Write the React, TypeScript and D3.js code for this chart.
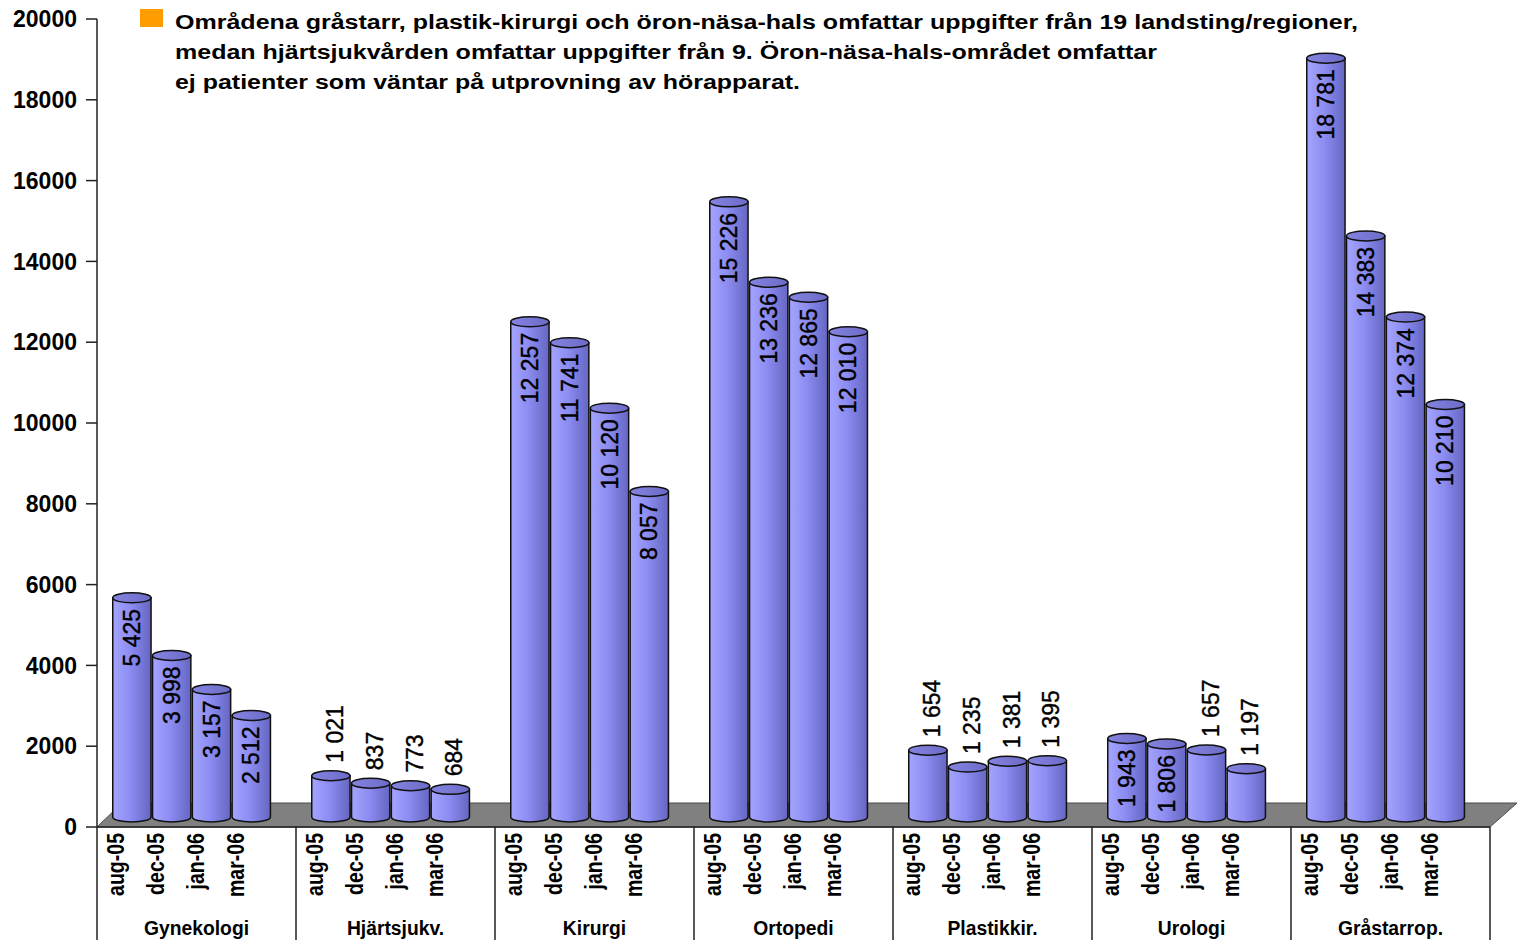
import React from 'react';
import * as d3 from 'd3';

const categories = ['Gynekologi', 'Hjärtsjukv.', 'Kirurgi', 'Ortopedi', 'Plastikkir.', 'Urologi', 'Gråstarrop.'];
const periods = ['aug-05', 'dec-05', 'jan-06', 'mar-06'];
const gynekologi = [5425, 3998, 3157, 2512];
const hjartsjukv = [1021, 837, 773, 684];
const kirurgi = [12257, 11741, 10120, 8057];
const ortopedi = [15226, 13236, 12865, 12010];
const plastikkir = [1654, 1235, 1381, 1395];
const urologi = [1943, 1806, 1657, 1197];
const grastarrop = [18781, 14383, 12374, 10210];
const seriesByCategory = [gynekologi, hjartsjukv, kirurgi, ortopedi, plastikkir, urologi, grastarrop];
const yTicks = [0, 2000, 4000, 6000, 8000, 10000, 12000, 14000, 16000, 18000, 20000];
const titleLines = [
  'Områdena gråstarr, plastik-kirurgi och öron-näsa-hals omfattar uppgifter från 19 landsting/regioner,',
  'medan hjärtsjukvården omfattar uppgifter från 9. Öron-näsa-hals-området omfattar',
  'ej patienter som väntar på utprovning av hörapparat.',
];
const titleWidths = [1183, 982, 625];

const W = 1517;
const H = 940;
const left = 97;
const right = 1490;
const y0 = 827;
const yTop = 19;
const depthX = 25;
const depthY = 24;
const barDX = 15;
const barDY = 10;
const slotsPerGroup = 5;

const locale = d3.formatLocale({ decimal: ',', thousands: '\u00a0', grouping: [3], currency: ['', ''] });
const fmt = locale.format(',d');

export default function App() {
  const y = d3.scaleLinear().domain([0, 20000]).range([y0, yTop]);
  const slotIdx = d3.range(categories.length * slotsPerGroup);
  const xs = d3.scaleBand<number>().domain(slotIdx).range([left, right]).padding(0);
  const groupX = d3.scaleBand<string>().domain(categories).range([left, right]).padding(0);
  const bw = xs.bandwidth();
  const rx = (bw - 1.5) / 2;
  const ry = 5;

  const bars: any[] = [];
  seriesByCategory.forEach((vals, g) => {
    vals.forEach((v, i) => {
      const k = g * slotsPerGroup + i;
      const fx = xs(k)!;
      bars.push({ g, i, v, k, fx, cx: fx + bw / 2 + barDX, top: y(v) - barDY, base: y(0) - barDY });
    });
  });

  const floor = [
    [left, y0],
    [left + depthX, y0 - depthY],
    [right + depthX + 2, y0 - depthY],
    [right, y0],
  ];

  return (
    <svg width={W} height={H} style={{ position: 'absolute', left: 0, top: 0, background: '#fff' }}
      fontFamily="Arial, 'Liberation Sans', sans-serif">
      <defs>
        <linearGradient id="cyl" x1="0" x2="1" y1="0" y2="0">
          <stop offset="0" stopColor="#a4a4ff" />
          <stop offset="0.45" stopColor="#8d8df2" />
          <stop offset="1" stopColor="#6565c2" />
        </linearGradient>
        <linearGradient id="cylTop" x1="0" x2="1" y1="0" y2="0">
          <stop offset="0" stopColor="#8484e0" />
          <stop offset="1" stopColor="#6c6cc8" />
        </linearGradient>
      </defs>

      {/* title */}
      <rect x={140} y={9} width={23} height={18} fill="#ff9c00" />
      {titleLines.map((t, i) => (
        <text key={i} x={175} y={29 + i * 30} fontSize={20} fontWeight="bold" fill="#000"
          textLength={titleWidths[i]} lengthAdjust="spacingAndGlyphs">{t}</text>
      ))}

      {/* floor */}
      <polygon points={floor.map((p) => p.join(',')).join(' ')} fill="#808080" stroke="#4a4a4a" strokeWidth={1} />

      {/* y axis */}
      <line x1={left} x2={left} y1={yTop} y2={H} stroke="#222" strokeWidth={1.5} />
      {yTicks.map((t) => (
        <g key={t}>
          <line x1={left - 11} x2={left} y1={y(t)} y2={y(t)} stroke="#222" strokeWidth={1.5} />
          <text x={77} y={y(t)} dy="0.36em" textAnchor="end" fontSize={23} fontWeight="bold">{t}</text>
        </g>
      ))}
      <line x1={left} x2={right} y1={y0} y2={y0} stroke="#222" strokeWidth={1.5} />

      {/* group separators & labels */}
      {categories.map((c, g) => {
        const gx = groupX(c)!;
        const gc = gx + groupX.bandwidth() / 2;
        return (
          <g key={c}>
            <line x1={gx + groupX.bandwidth()} x2={gx + groupX.bandwidth()} y1={y0} y2={H} stroke="#222" strokeWidth={1.5} />
            <text transform={`translate(${gc},935) scale(0.92,1)`} textAnchor="middle" fontSize={21} fontWeight="bold">{c}</text>
            {periods.map((p, i) => {
              const k = g * slotsPerGroup + i;
              const cx = xs(k)! + bw / 2;
              return (
                <text key={p} transform={`translate(${cx},${y0 + 6}) rotate(-90) scale(0.85,1)`} textAnchor="end"
                  dominantBaseline="central" fontSize={23} fontWeight="bold">{p}</text>
              );
            })}
          </g>
        );
      })}

      {/* bars */}
      {bars.map((b) => {
        const l = b.cx - rx;
        const r = b.cx + rx;
        const path = `M${l},${b.top} L${l},${b.base} A${rx},${ry} 0 0 0 ${r},${b.base} L${r},${b.top} Z`;
        return (
          <g key={b.k}>
            <path d={path} fill="url(#cyl)" stroke="#111" strokeWidth={1.5} />
            <ellipse cx={b.cx} cy={b.top} rx={rx} ry={ry} fill="url(#cylTop)" stroke="#111" strokeWidth={1.5} />
          </g>
        );
      })}

      {/* value labels */}
      {bars.map((b) => {
        const inside = b.base - b.top > 70;
        return inside ? (
          <text key={'l' + b.k} transform={`translate(${b.cx},${b.top + 11}) rotate(-90)`} textAnchor="end"
            dominantBaseline="central" fontSize={23} stroke="#000" strokeWidth={0.4}>{fmt(b.v)}</text>
        ) : (
          <text key={'l' + b.k} transform={`translate(${b.cx + 4},${b.top - 13}) rotate(-90)`} textAnchor="start"
            dominantBaseline="central" fontSize={23} stroke="#000" strokeWidth={0.4}>{fmt(b.v)}</text>
        );
      })}
    </svg>
  );
}
